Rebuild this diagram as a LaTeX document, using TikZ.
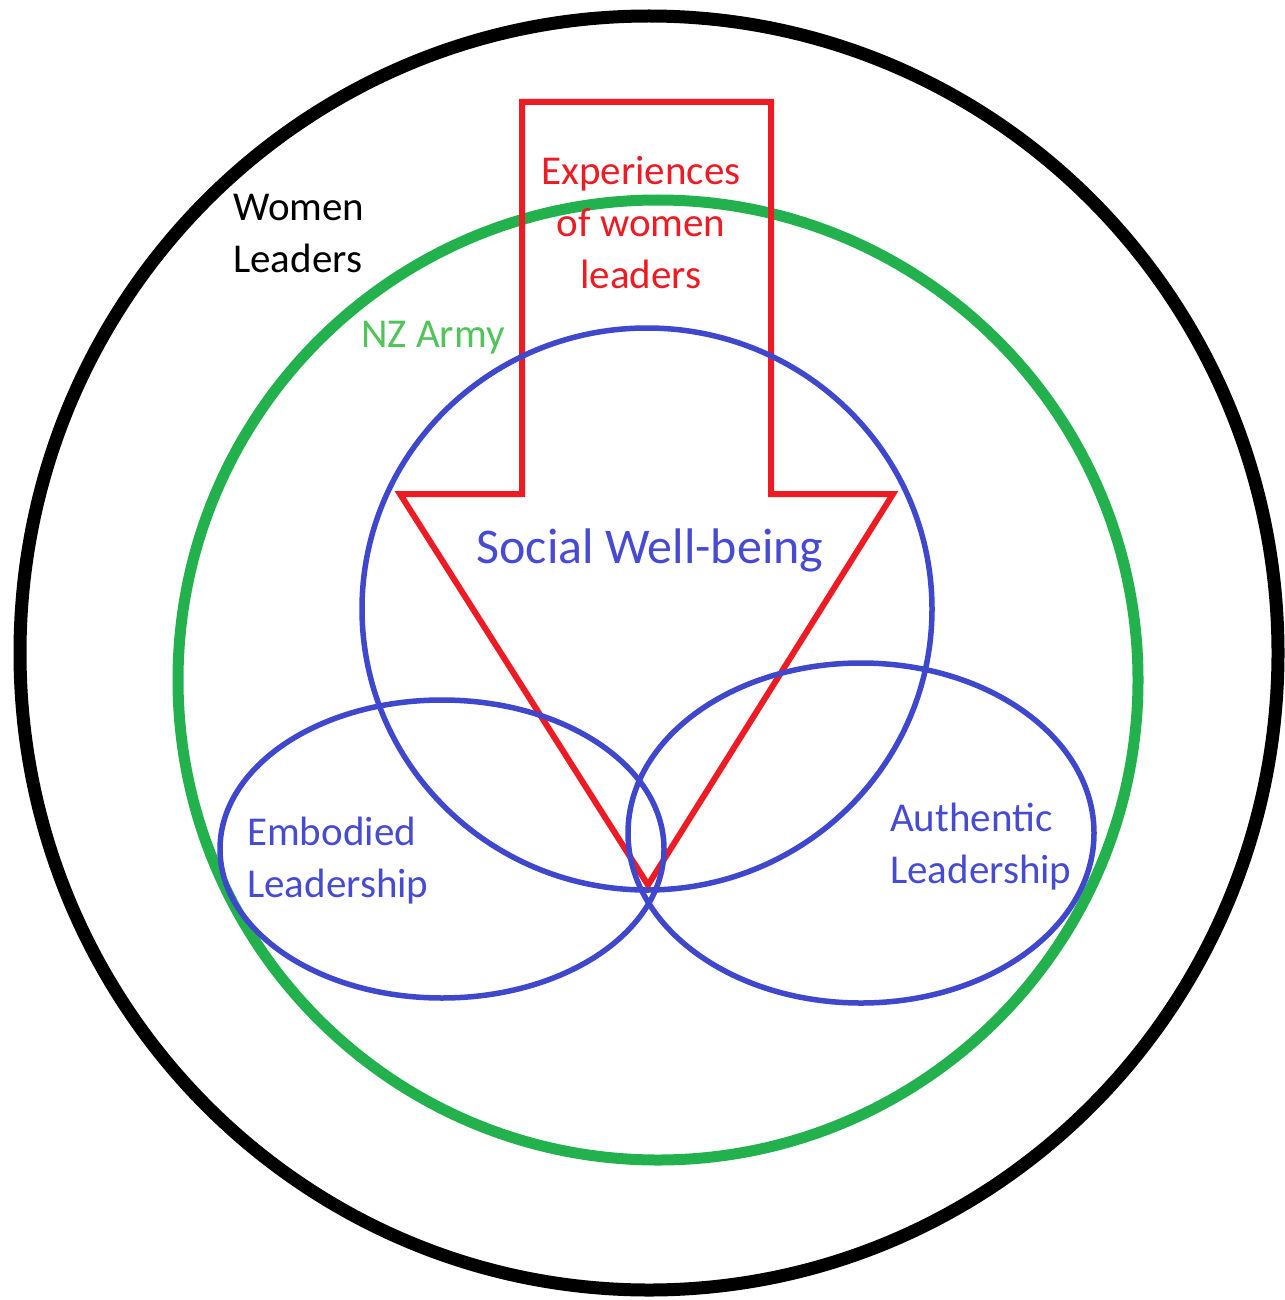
\documentclass[tikz,border=0pt]{standalone}
\usepackage{fontspec}
\setmainfont{Carlito}
\definecolor{ringblack}{RGB}{0,0,0}
\definecolor{armygreen}{RGB}{34,177,76}
\definecolor{armytext}{RGB}{80,195,90}
\definecolor{arrowred}{RGB}{237,28,36}
\definecolor{venblue}{RGB}{63,72,204}
\definecolor{ventext}{RGB}{70,75,210}
\begin{document}
\begin{tikzpicture}[x=1pt,y=-1pt,
  ring/.style={line width=#1},
  lbl/.style={inner sep=0pt,font=\fontsize{41}{52}\selectfont},
  biglbl/.style={inner sep=0pt,font=\fontsize{50}{60}\selectfont}]
\useasboundingbox (0,0) rectangle (1284,1300);
\fill[white] (0,0) rectangle (1284,1300);

% outer ring: women leaders
\draw[ring=13pt,ringblack] (649,653) ellipse [x radius=629pt,y radius=637pt];
% NZ Army ring
\draw[ring=11pt,armygreen] (658,680) ellipse [x radius=480pt,y radius=480pt];

% downward arrow of experiences
\draw[ring=6pt,arrowred,line join=miter]
  (522,102) coordinate (aTL) -- (771,102) coordinate (aTR)
  -- (771,494) -- (893,494) coordinate (aR)
  -- (648,885) coordinate (aTip)
  -- (400,494) coordinate (aL) -- (522,494) -- cycle;

% the three overlapping sets
\draw[ring=5.5pt,venblue] (647,609) ellipse [x radius=285pt,y radius=281pt];
\draw[ring=5.5pt,venblue] (442,849) ellipse [x radius=222pt,y radius=149pt];
\draw[ring=5.5pt,venblue] (861,833) ellipse [x radius=233pt,y radius=170pt];

% labels (base anchor of a multi-line node sits on its last line)
\node[lbl,anchor=base west,align=left,text=black] (women) at (233,272) {Women\\Leaders};
\node[lbl,anchor=base,align=center,text=arrowred] (exp) at (641,288) {Experiences\\of women\\leaders};
\node[lbl,anchor=base west,text=armytext] (army) at (361,347) {NZ Army};
\node[biglbl,anchor=base,text=ventext] (social) at (650,563) {Social Well-being};
\node[lbl,anchor=base west,align=left,text=ventext] (emb) at (247,897) {Embodied\\Leadership};
\node[lbl,anchor=base west,align=left,text=ventext] (auth) at (890,883) {Authentic\\Leadership};
\end{tikzpicture}
\end{document}
